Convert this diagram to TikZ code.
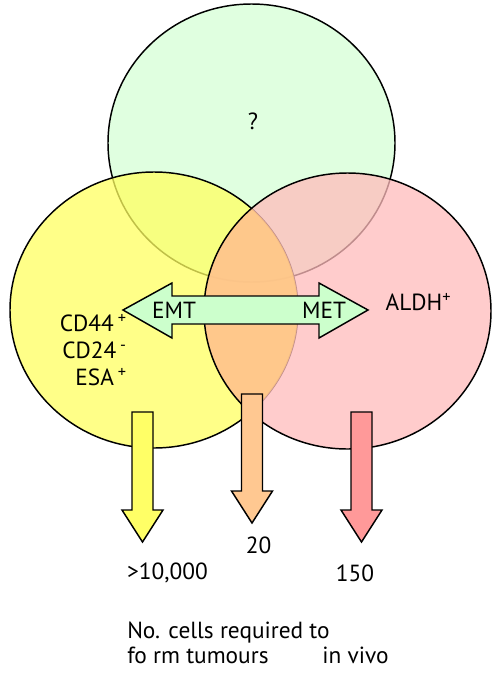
\documentclass[tikz,border=0pt]{standalone}
\usepackage{fontspec}
\setmainfont{PT Sans}
\usetikzlibrary{positioning}

\definecolor{topgreen}{HTML}{E0FFE0}
\definecolor{cellyellow}{HTML}{FFFF60}
\definecolor{cellpink}{HTML}{FFBBBB}
\definecolor{lensorange}{HTML}{FFC783}
\definecolor{arrowgreen}{HTML}{CCFFCC}
\definecolor{arrowyellow}{HTML}{FFFF66}
\definecolor{arroworange}{HTML}{FFC891}
\definecolor{arrowpink}{HTML}{FF9999}

\begin{document}
\begin{tikzpicture}[x=0.75pt, y=-0.75pt,
  every node/.style={font=\fontsize{17.5}{20.3}\selectfont, inner sep=0pt},
  outline/.style={draw=black, line width=1.1pt},
  blockarrow/.style={draw=black, line width=1.1pt, line join=miter}]
\useasboundingbox (0,0) rectangle (500,675);
% the three populations
\draw[outline, fill=topgreen] (251.5,143) ellipse [x radius=143.5, y radius=139];
\draw[outline, fill=cellyellow, fill opacity=0.75] (154,310) ellipse [x radius=144, y radius=138];
\fill[cellpink, fill opacity=0.75] (347.5,311) ellipse [x radius=143.5, y radius=138];
\begin{scope}
\clip (154,310) ellipse [x radius=144, y radius=138];
\fill[lensorange, fill opacity=0.8] (347.5,311) ellipse [x radius=143.5, y radius=138];
\end{scope}
\draw[outline] (347.5,311) ellipse [x radius=143.5, y radius=138];
% EMT / MET
\draw[blockarrow, fill=arrowgreen] (123,310) -- (172,283) -- (172,296) -- (319,296) -- (319,283)
  -- (368,310) -- (319,338) -- (319,324) -- (172,324) -- (172,338) -- cycle;
% tumour forming cells
\foreach \cx/\ytop/\ybase/\ytip/\col in {142.5/412/510/542/arrowyellow, 252/394/491/523/arroworange, 361.5/412/510/542/arrowpink}
  \draw[blockarrow, fill=\col] (\cx-10.5,\ytop) -- (\cx+10.5,\ytop) -- (\cx+10.5,\ybase) -- (\cx+20.5,\ybase)
    -- (\cx,\ytip) -- (\cx-20.5,\ybase) -- (\cx-10.5,\ybase) -- cycle;
\node (unknown) at (253,121) {?};
\node (emt) at (174,310) {EMT};
\node (met) at (324,310) {MET};
\node (aldh) at (418.5,302) {ALDH\textsuperscript{+}};
\node[align=right, anchor=east] (markers) at (127,350) {CD44\,\textsuperscript{+}\\CD24\,\textsuperscript{-}\\ESA\,\textsuperscript{+}};
\node (many) at (167.5,573) {>10,000};
\node (twenty) at (258.5,545) {20};
\node (onefifty) at (355,573) {150};
\node[anchor=base west] (caption) at (127,638) {No. cells required to};
\node[anchor=base west] (tumours) at (127,663) {fo rm tumours};
\node[anchor=base west] (invivo) at (322,663) {in vivo};
\end{tikzpicture}
\end{document}
